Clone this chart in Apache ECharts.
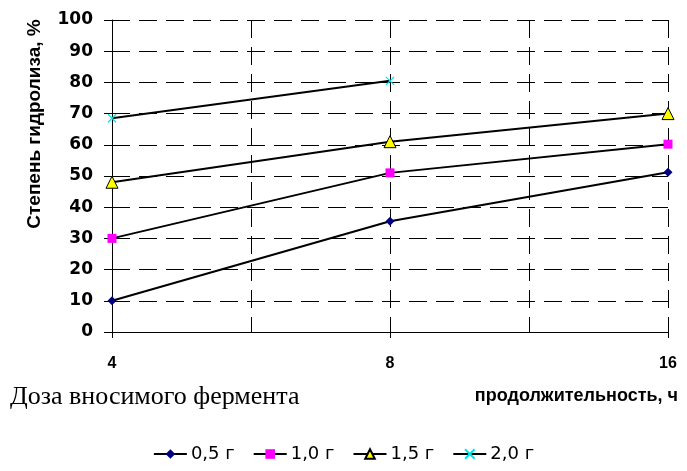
<!DOCTYPE html>
<html>
<head>
<meta charset="utf-8">
<script src="https://cdn.jsdelivr.net/npm/echarts@6/dist/echarts.min.js"></script>
<style>
  html, body { margin: 0; padding: 0; background: #fff; }
  #chart { width: 687px; height: 471px; }
</style>
</head>
<body>
<div id="chart"></div>
<script>
// Hydrolysis degree (%) vs. duration (h) for several enzyme doses
const hours = ['4', '8', '16'];
const dose05 = [10, 35.5, 51.2];
const dose10 = [30, 51, 60.2];
const dose15 = [48, 61, 70];
const dose20 = [68.5, 80.5, null];
const seriesNames = ['0,5 г', '1,0 г', '1,5 г', '2,0 г'];
const yTicks = [0, 10, 20, 30, 40, 50, 60, 70, 80, 90, 100];

// x positions are category indices (evenly spaced), labelled with hours
function toPoints(values) {
  return values.map((v, i) => [i, v]);
}

const chart = echarts.init(document.getElementById('chart'));

const markers = [
  { symbol: 'diamond', size: 9, color: '#000080', border: '#000080', bw: 0 },
  { symbol: 'rect', size: 9, color: '#FF00FF', border: '#FF00FF', bw: 0 },
  { symbol: 'triangle', size: 12, color: '#FFFF00', border: '#000000', bw: 1 },
  { symbol: 'path://M0 0L10 10M10 0L0 10', size: 8, color: 'none', border: '#00E5E5', bw: 1.2 }
];
const allData = [dose05, dose10, dose15, dose20];
const dash = [18, 9];

chart.setOption({
  animation: false,
  grid: { left: 112, right: 19, top: 20, bottom: 139, containLabel: false },
  xAxis: {
    type: 'value',
    min: 0,
    max: hours.length - 1,
    interval: 1,
    axisLine: { show: true, lineStyle: { color: '#000', width: 1 } },
    axisTick: { show: true, length: 6, lineStyle: { color: '#000' } },
    axisLabel: {
      margin: 24,
      color: '#000',
      fontFamily: 'Liberation Sans',
      fontWeight: 'bold',
      fontSize: 16,
      formatter: v => hours[Math.round(v)] || ''
    },
    splitLine: { show: true, lineStyle: { color: '#000', type: dash, width: 1 } },
    minorTick: { show: false, splitNumber: 2 },
    minorSplitLine: { show: true, lineStyle: { color: '#000', type: dash, width: 1 } }
  },
  yAxis: {
    type: 'value',
    min: yTicks[0],
    max: yTicks[yTicks.length - 1],
    interval: 10,
    axisLine: { show: true, lineStyle: { color: '#000', width: 1 } },
    axisTick: { show: true, length: 8, lineStyle: { color: '#000' } },
    axisLabel: {
      margin: 19,
      color: '#000',
      fontFamily: 'DejaVu Sans',
      fontWeight: 'bold',
      fontSize: 17
    },
    splitLine: { show: true, lineStyle: { color: '#000', type: dash, width: 1 } }
  },
  legend: {
    top: 440,
    left: 'center',
    itemWidth: 33,
    itemHeight: 12,
    itemGap: 18,
    textStyle: { color: '#000', fontFamily: 'DejaVu Sans', fontSize: 18, padding: [0, 0, 0, -1] },
    data: seriesNames
  },
  graphic: [
    {
      type: 'text',
      x: 35, y: 124,
      rotation: Math.PI / 2,
      style: {
        text: 'Степень гидролиза, %',
        fill: '#000',
        font: 'bold 19px "Liberation Sans"',
        textAlign: 'center',
        textVerticalAlign: 'middle'
      }
    },
    {
      type: 'text',
      x: 10, y: 397,
      style: {
        text: 'Доза вносимого фермента',
        fill: '#000',
        font: '26px "Liberation Serif"',
        textAlign: 'left',
        textVerticalAlign: 'middle'
      }
    },
    {
      type: 'text',
      x: 678, y: 396,
      style: {
        text: 'продолжительность, ч',
        fill: '#000',
        font: 'bold 18px "Liberation Sans"',
        textAlign: 'right',
        textVerticalAlign: 'middle'
      }
    }
  ],
  series: allData.map((d, i) => ({
    name: seriesNames[i],
    type: 'line',
    data: toPoints(d),
    symbol: markers[i].symbol,
    symbolSize: markers[i].size,
    showSymbol: true,
    lineStyle: { color: '#000', width: 2 },
    itemStyle: { color: markers[i].color, borderColor: markers[i].border, borderWidth: markers[i].bw },
    z: 3 + i
  }))
});
</script>
</body>
</html>
